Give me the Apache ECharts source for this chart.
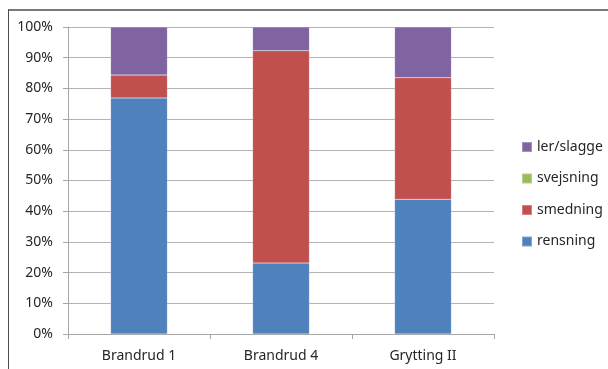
<!DOCTYPE html>
<html>
<head>
<meta charset="utf-8">
<script src="https://cdn.jsdelivr.net/npm/echarts@6/dist/echarts.min.js"></script>
<style>
html,body{margin:0;padding:0;background:#fff;}
#chart{width:608px;height:369px;}
</style>
</head>
<body>
<div id="chart"></div>
<script>
const categories = ['Brandrud 1', 'Brandrud 4', 'Grytting II'];
const rensning = [76.9, 23.1, 43.9];
const smedning = [7.5, 69.2, 39.6];
const svejsning = [0, 0, 0];
const lerSlagge = [15.6, 7.7, 16.5];
const yTicks = [0, 10, 20, 30, 40, 50, 60, 70, 80, 90, 100];

const FONT = 'Noto Sans';
const chart = echarts.init(document.getElementById('chart'), null, {renderer: 'canvas'});

function bar(name, data, color) {
  return {
    name: name, type: 'bar', stack: 'total', data: data,
    barWidth: '40%',
    itemStyle: {color: color, borderColor: 'rgba(255,255,255,0.3)', borderWidth: 0.5},
    emphasis: {disabled: true}
  };
}

chart.setOption({
  animation: false,
  backgroundColor: '#fff',
  textStyle: {fontFamily: FONT},
  grid: {left: 68, right: 114, top: 27, height: 307, containLabel: false},
  xAxis: {
    type: 'category', data: categories,
    axisLine: {show: true, lineStyle: {color: '#a6a6a6', width: 1}},
    axisTick: {show: true, length: 5, lineStyle: {color: '#a6a6a6'}},
    axisLabel: {color: '#262626', fontSize: 14, fontFamily: FONT, margin: 15}
  },
  yAxis: {
    type: 'value', min: yTicks[0], max: yTicks[yTicks.length - 1], interval: 10,
    axisLine: {show: true, lineStyle: {color: '#a6a6a6', width: 1}},
    axisTick: {show: true, length: 5, lineStyle: {color: '#a6a6a6'}},
    axisLabel: {color: '#262626', fontSize: 14, fontFamily: FONT, margin: 15, formatter: '{value}%'},
    splitLine: {show: true, lineStyle: {color: '#b3b3b3', width: 1}}
  },
  legend: {
    orient: 'vertical', left: 521, top: 140, padding: 0,
    data: ['ler/slagge', 'svejsning', 'smedning', 'rensning'],
    itemWidth: 10, itemHeight: 10, itemGap: 17.5,
    icon: 'rect',
    textStyle: {color: '#262626', fontSize: 14, fontFamily: FONT, lineHeight: 14},
    selectedMode: false
  },
  graphic: [
    {type: 'line', shape: {x1: 8, y1: 10, x2: 608, y2: 10}, style: {stroke: '#4d4d4d', lineWidth: 1.5}, silent: true},
    {type: 'line', shape: {x1: 8.5, y1: 9.5, x2: 8.5, y2: 369}, style: {stroke: '#4d4d4d', lineWidth: 1}, silent: true}
  ],
  series: [
    bar('rensning', rensning, '#4F81BD'),
    bar('smedning', smedning, '#C0504D'),
    bar('svejsning', svejsning, '#9BBB59'),
    bar('ler/slagge', lerSlagge, '#8064A2')
  ]
});
</script>
</body>
</html>
